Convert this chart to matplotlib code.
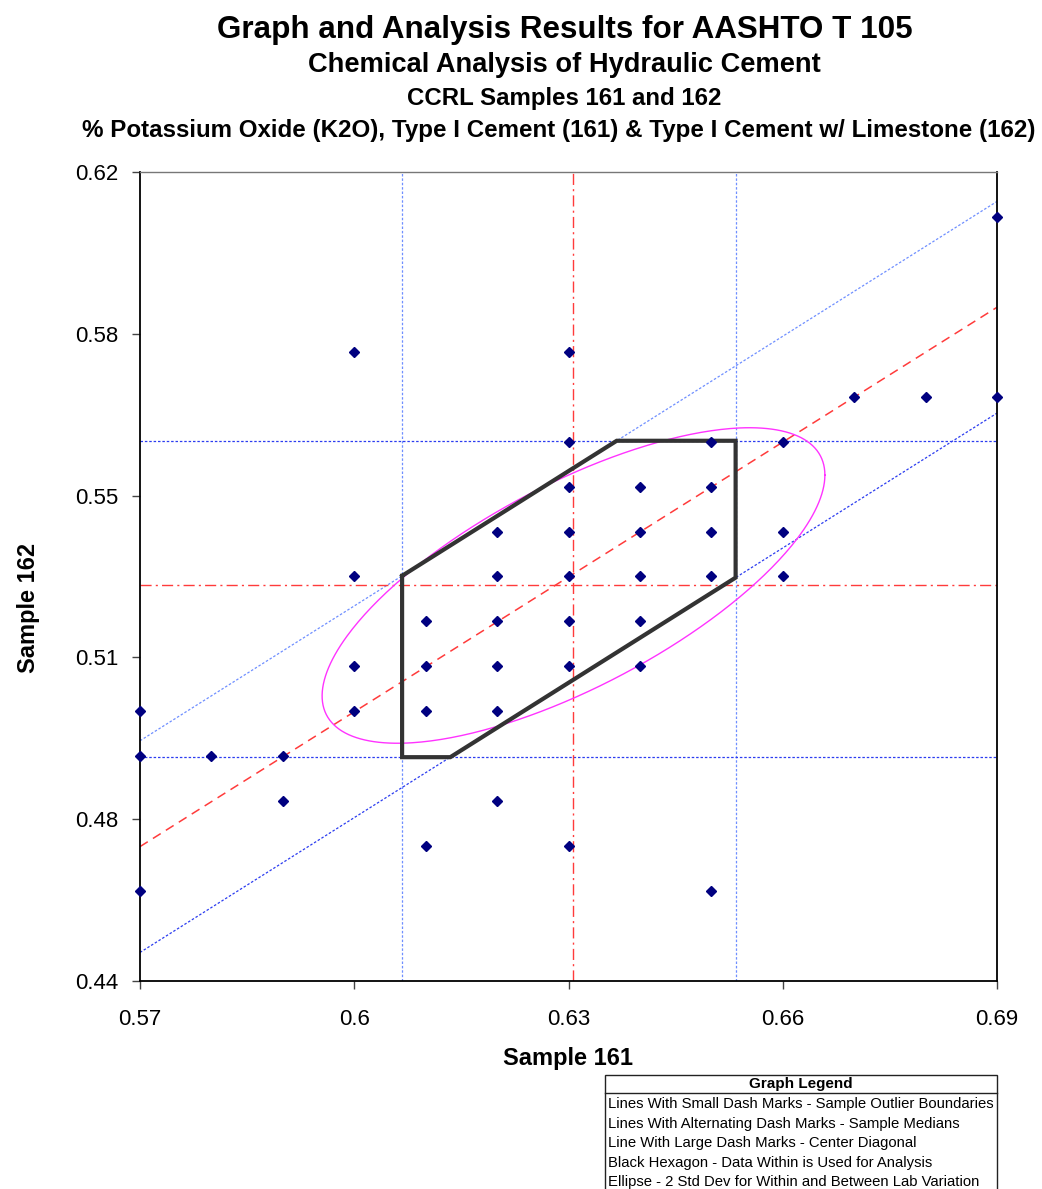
import numpy as np
import matplotlib
matplotlib.use("Agg")
import matplotlib.pyplot as plt
from matplotlib.patches import Rectangle

plt.rcParams['font.family'] = ['Liberation Sans', 'DejaVu Sans']

# Paired lab results: % K2O for sample 161 (x) and sample 162 (y)
sample_161 = [0.57, 0.57, 0.57, 0.58, 0.59, 0.59,
              0.60, 0.60, 0.60, 0.60,
              0.61, 0.61, 0.61, 0.61,
              0.62, 0.62, 0.62, 0.62, 0.62, 0.62,
              0.63, 0.63, 0.63, 0.63, 0.63, 0.63, 0.63, 0.63,
              0.64, 0.64, 0.64, 0.64, 0.64,
              0.65, 0.65, 0.65, 0.65, 0.65,
              0.66, 0.66, 0.66,
              0.67, 0.68, 0.69, 0.69]
sample_162 = [0.50, 0.49, 0.46, 0.49, 0.49, 0.48,
              0.58, 0.53, 0.51, 0.50,
              0.52, 0.51, 0.50, 0.47,
              0.54, 0.53, 0.52, 0.51, 0.50, 0.48,
              0.58, 0.56, 0.55, 0.54, 0.53, 0.52, 0.51, 0.47,
              0.55, 0.54, 0.53, 0.52, 0.51,
              0.56, 0.55, 0.54, 0.53, 0.46,
              0.56, 0.54, 0.53,
              0.57, 0.57, 0.61, 0.57]

# Summary statistics
median_161 = 0.6307
median_162 = 0.5280
outlier_161 = [0.6067, 0.6534]
outlier_162 = [0.4898, 0.5602]
diag_offset = 0.1001        # center diagonal: y = x - offset
diag_halfwidth = 0.02355    # outlier diagonals: offset +/- halfwidth
ellipse_ax = 0.0352         # 2 std dev, sample 161
ellipse_ay = 0.0351         # 2 std dev, sample 162
ellipse_rho = 0.70

x_ticks = [0.57, 0.60, 0.63, 0.66, 0.69]
x_ticklabels = ['0.57', '0.6', '0.63', '0.66', '0.69']
y_ticks = [0.44, 0.476, 0.512, 0.548, 0.584, 0.62]
y_ticklabels = ['0.44', '0.48', '0.51', '0.55', '0.58', '0.62']

title_lines = [
    ("Graph and Analysis Results for AASHTO T 105", 22.6, 565, 30),
    ("Chemical Analysis of Hydraulic Cement", 19.6, 564, 65),
    ("CCRL Samples 161 and 162", 17.3, 564, 99),
    ("% Potassium Oxide (K2O), Type I Cement (161) & Type I Cement w/ Limestone (162)", 17.4, 559, 131),
]
legend_title = "Graph Legend"
legend_lines = [
    "Lines With Small Dash Marks - Sample Outlier Boundaries",
    "Lines With Alternating Dash Marks - Sample Medians",
    "Line With Large Dash Marks - Center Diagonal",
    "Black Hexagon - Data Within is Used for Analysis",
    "Ellipse - 2 Std Dev for Within and Between Lab Variation",
]

W, H = 1042, 1189
fig = plt.figure(figsize=(W / 100, H / 100), dpi=100)
ax = fig.add_axes([140 / W, 1 - 981 / H, (997 - 140) / W, (981 - 172) / H])

xmin, xmax = 0.57, 0.69
ymin, ymax = 0.44, 0.62
ax.set_xlim(xmin, xmax)
ax.set_ylim(ymin, ymax)

xs = np.array([xmin, xmax])
light_blue = '#6f8fff'
dark_blue = '#2b3cf0'
red = '#ff3b3b'

# Outlier boundaries (small dashes)
small_dash = (0, (2, 1.5))
for xv in outlier_161:
    ax.axvline(xv, color=light_blue, lw=0.9, ls=small_dash, zorder=1)
for yv in outlier_162:
    ax.axhline(yv, color=dark_blue, lw=0.9, ls=small_dash, zorder=1)
ax.plot(xs, xs - diag_offset + diag_halfwidth, color=light_blue, lw=0.9,
        ls=small_dash, zorder=1)
ax.plot(xs, xs - diag_offset - diag_halfwidth, color=dark_blue, lw=0.9,
        ls=small_dash, zorder=1)

# Medians (alternating dashes)
dash_dot = (0, (8, 3, 1.5, 3))
ax.axvline(median_161, color=red, lw=1.0, ls=dash_dot, zorder=1)
ax.axhline(median_162, color=red, lw=1.0, ls=dash_dot, zorder=1)

# Center diagonal (large dashes)
ax.plot(xs, xs - diag_offset, color=red, lw=1.1, ls=(0, (6, 4)), zorder=1)

# Hexagon: outlier box intersected with the diagonal band
x_lo, x_hi = outlier_161
y_lo, y_hi = outlier_162
up = -diag_offset + diag_halfwidth
lo = -diag_offset - diag_halfwidth
hex_x = [x_lo, x_lo, y_lo - lo, x_hi, x_hi, y_hi - up, x_lo]
hex_y = [x_lo + up, y_lo, y_lo, x_hi + lo, y_hi, y_hi, x_lo + up]
ax.plot(hex_x, hex_y, color='#333333', lw=3.0, solid_joinstyle='miter', zorder=3)

# 2 std dev ellipse
t = np.linspace(0, 2 * np.pi, 400)
delta = np.arccos(ellipse_rho)
ex = median_161 + ellipse_ax * np.cos(t)
ey = median_162 + ellipse_ay * np.cos(t - delta)
ax.plot(ex, ey, color='#ff33ff', lw=1.0, zorder=2)

# Data points
ax.plot(sample_161, sample_162, ls='none', marker='D', ms=5.5, color='#000080',
        mec='#000080', clip_on=False, zorder=5)

ax.set_xticks(x_ticks)
ax.set_xticklabels(x_ticklabels)
ax.set_yticks(y_ticks)
ax.set_yticklabels(y_ticklabels)
ax.tick_params(axis='both', direction='out', length=6, width=1, labelsize=16,
               color='#444444')
ax.tick_params(axis='y', pad=9.5)
ax.tick_params(axis='x', pad=14)
for side in ['left', 'bottom', 'right']:
    ax.spines[side].set_color('black')
    ax.spines[side].set_linewidth(1.3)
ax.spines['top'].set_color('#777777')
ax.spines['top'].set_linewidth(1.0)

fig.text(568 / W, 1 - 1058 / H, "Sample 161", ha='center', va='center',
         fontsize=17, fontweight='bold')
fig.text(28 / W, 1 - 608 / H, "Sample 162", ha='center', va='center',
         fontsize=17, fontweight='bold', rotation=90)

for txt, fs, xp, yp in title_lines:
    fig.text(xp / W, 1 - yp / H, txt, ha='center', va='center',
             fontsize=fs, fontweight='bold')

# Legend box
bx0, bx1, by0 = 605, 997, 1075
fig.patches.append(Rectangle((bx0 / W, -0.05), (bx1 - bx0) / W,
                             (1 - by0 / H) + 0.05, transform=fig.transFigure,
                             fill=False, ec='#222222', lw=1.0))
fig.lines.append(plt.Line2D([bx0 / W, bx1 / W], [1 - 1093 / H, 1 - 1093 / H],
                            transform=fig.transFigure, color='#222222', lw=1.0))
fig.text((bx0 + bx1) / 2 / W, 1 - 1084 / H, legend_title, ha='center',
         va='center', fontsize=11, fontweight='bold')
for i, line in enumerate(legend_lines):
    fig.text(608 / W, 1 - (1104 + i * 19.6) / H, line, ha='left', va='center',
             fontsize=10.7)

fig.savefig("out.png", dpi=100)
